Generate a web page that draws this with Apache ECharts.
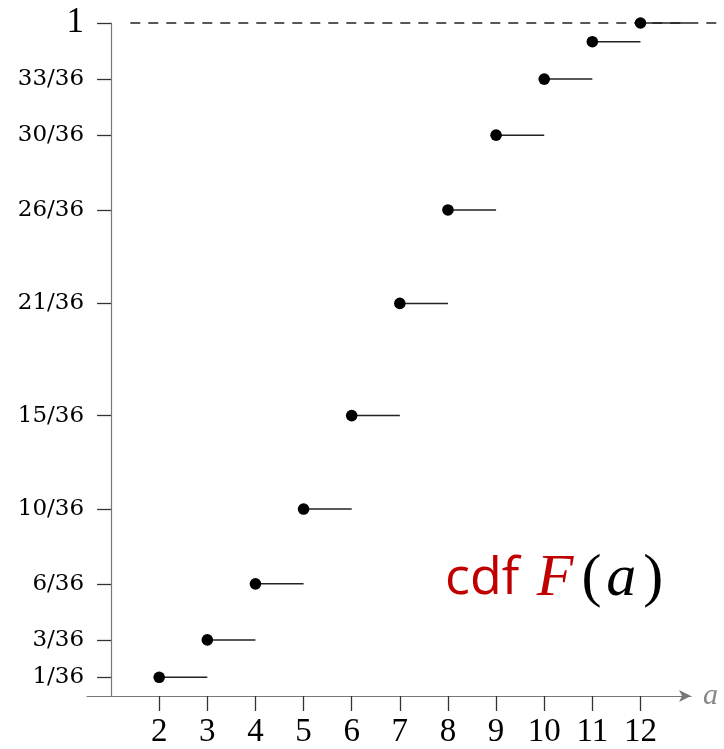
<!DOCTYPE html>
<html>
<head>
<meta charset="utf-8">
<script src="https://cdn.jsdelivr.net/npm/echarts@6/dist/echarts.min.js"></script>
<style>html,body{margin:0;padding:0;background:#fff}#c{width:724px;height:749px}</style>
</head>
<body>
<div id="c"></div>
<script>
// Data
const outcomes = [2, 3, 4, 5, 6, 7, 8, 9, 10, 11, 12];
const cumCounts = [1, 3, 6, 10, 15, 21, 26, 30, 33, 35, 36];
const denom = 36;
const yTickCounts = [1, 3, 6, 10, 15, 21, 26, 30, 33, 36];
const yTickLabels = ['1/36', '3/36', '6/36', '10/36', '15/36', '21/36', '26/36', '30/36', '33/36', '1'];
const xTickLabels = ['2', '3', '4', '5', '6', '7', '8', '9', '10', '11', '12'];
const dashedLevel = [[1.4, 1], [13.74, 1]];

const cdf = outcomes.map((k, i) => [k, cumCounts[i] / denom]);
const yTicks = yTickCounts.map(c => c / denom);

const chart = echarts.init(document.getElementById('c'), null, {renderer: 'canvas'});
const serif = '"Liberation Serif", "DejaVu Serif", serif';

chart.setOption({
  animation: false,
  grid: [
    {left: 87, right: 33, top: 23, bottom: 52, containLabel: false},
    {left: 87, right: 0, top: 23, bottom: 52, containLabel: false}
  ],
  xAxis: [{
    type: 'value', min: 0.5, max: 13.05, gridIndex: 0,
    axisLine: {show: true, onZero: false, lineStyle: {color: '#777', width: 1.2},
      symbol: ['none', 'arrow'], symbolSize: [9, 12], symbolOffset: [0, 0]},
    axisTick: {show: true, inside: false, length: 15, customValues: outcomes, lineStyle: {color: '#333', width: 1.3}},
    axisLabel: {show: true, customValues: outcomes, margin: 20, color: '#000', fontFamily: serif, fontSize: 33,
      formatter: v => xTickLabels[outcomes.indexOf(Math.round(v))] || ''},
    splitLine: {show: false},
    name: 'a', nameLocation: 'end', nameGap: 12,
    nameTextStyle: {color: '#888', fontFamily: serif, fontStyle: 'italic', fontSize: 30, verticalAlign: 'middle', padding: [0, 0, 6, 0]}
  }, {
    type: 'value', min: 0.5, max: 13.743, gridIndex: 1, show: false
  }],
  yAxis: [{
    type: 'value', min: 0, max: 1, offset: -24.05, gridIndex: 0,
    axisLine: {show: true, onZero: false, lineStyle: {color: '#777', width: 1.2}},
    axisTick: {show: true, inside: false, length: 14, customValues: yTicks, lineStyle: {color: '#333', width: 1.3}},
    axisLabel: {show: true, customValues: yTicks, margin: 27, color: '#000', fontFamily: '"DejaVu Serif", serif', fontSize: 23,
      formatter: v => {
        let idx = yTicks.findIndex(t => Math.abs(t - v) < 1e-6);
        if (idx < 0) return '';
        return idx === yTicks.length - 1 ? '{big|' + yTickLabels[idx] + '}' : yTickLabels[idx];
      },
      rich: {big: {fontFamily: serif, fontSize: 35, color: '#000'}}
    },
    splitLine: {show: false}
  }, {
    type: 'value', min: 0, max: 1, gridIndex: 1, show: false
  }],
  series: [{
    type: 'custom',
    clip: false,
    xAxisIndex: 0, yAxisIndex: 0,
    data: cdf,
    renderItem: function (params, api) {
      const x = api.value(0), y = api.value(1);
      const p0 = api.coord([x, y]);
      const p1 = api.coord([x + 1, y]);
      return {
        type: 'group',
        children: [
          {type: 'line', shape: {x1: p0[0], y1: p0[1], x2: p1[0], y2: p1[1]}, style: {stroke: '#222', lineWidth: 1.5}},
          {type: 'circle', shape: {cx: p0[0], cy: p0[1], r: 5.8}, style: {fill: '#000'}}
        ]
      };
    },
    z: 3
  }, {
    type: 'line',
    xAxisIndex: 1, yAxisIndex: 1,
    clip: false,
    data: dashedLevel,
    symbol: 'none',
    lineStyle: {color: '#222', type: [10, 8], width: 1.3},
    z: 1
  }],
  graphic: [{
    type: 'text', left: 445, top: 549,
    style: {
      rich: {
        c: {fontFamily: '"Open Sans", "Liberation Sans", sans-serif', fontSize: 52, fill: '#c00000', padding: [0, 4, 0, 0]},
        f: {fontFamily: serif, fontStyle: 'italic', fontSize: 60, fill: '#c00000', padding: [0, 8, 0, 0]},
        p: {fontFamily: serif, fontSize: 60, fill: '#000'},
        a: {fontFamily: serif, fontStyle: 'italic', fontSize: 60, fill: '#000', padding: [0, 7, 0, 5]}
      },
      text: '{c|cdf }{f|F}{p|(}{a|a}{p|)}'
    }
  }]
});
</script>
</body>
</html>
